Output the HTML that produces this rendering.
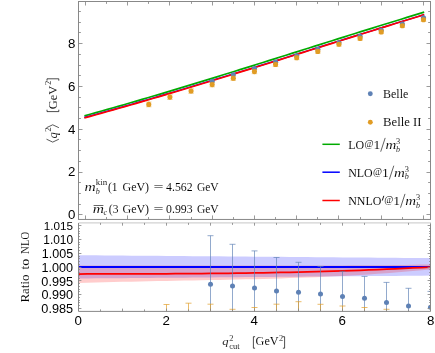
<!DOCTYPE html>
<html><head><meta charset="utf-8"><title>plot</title>
<style>
html,body{margin:0;padding:0;background:#fff;}
#c{will-change:transform;position:relative;width:435px;height:353px;overflow:hidden;background:#fff;}
</style></head><body>
<div id="c">
<svg width="435" height="353" viewBox="0 0 435 353" style="position:absolute;left:0;top:0">
<rect width="435" height="353" fill="#fff"/>
<polyline points="84.40,115.81 90.16,114.22 95.92,112.62 101.68,111.01 107.44,109.39 113.20,107.75 118.96,106.11 124.72,104.45 130.47,102.79 136.23,101.11 141.99,99.43 147.75,97.73 153.51,96.03 159.27,94.32 165.03,92.60 170.79,90.88 176.55,89.14 182.31,87.40 188.07,85.65 193.83,83.90 199.59,82.14 205.35,80.37 211.11,78.60 216.86,76.82 222.62,75.04 228.38,73.25 234.14,71.46 239.90,69.67 245.66,67.87 251.42,66.07 257.18,64.27 262.94,62.46 268.70,60.65 274.46,58.84 280.22,57.03 285.98,55.21 291.74,53.40 297.49,51.58 303.25,49.77 309.01,47.95 314.77,46.14 320.53,44.32 326.29,42.51 332.05,40.70 337.81,38.89 343.57,37.08 349.33,35.28 355.09,33.47 360.85,31.67 366.61,29.88 372.37,28.08 378.13,26.29 383.88,24.51 389.64,22.73 395.40,20.96 401.16,19.19 406.92,17.42 412.68,15.66 418.44,13.91 424.20,12.17" fill="none" stroke="#00AA00" stroke-width="1.7"/>
<polyline points="84.40,117.46 90.16,115.89 95.92,114.30 101.68,112.70 107.44,111.10 113.20,109.48 118.96,107.85 124.72,106.22 130.47,104.57 136.23,102.91 141.99,101.25 147.75,99.58 153.51,97.90 159.27,96.21 165.03,94.51 170.79,92.80 176.55,91.09 182.31,89.37 188.07,87.65 193.83,85.91 199.59,84.17 205.35,82.43 211.11,80.68 216.86,78.92 222.62,77.16 228.38,75.40 234.14,73.63 239.90,71.85 245.66,70.08 251.42,68.30 257.18,66.51 262.94,64.72 268.70,62.93 274.46,61.14 280.22,59.35 285.98,57.55 291.74,55.75 297.49,53.95 303.25,52.15 309.01,50.35 314.77,48.54 320.53,46.74 326.29,44.94 332.05,43.14 337.81,41.33 343.57,39.53 349.33,37.73 355.09,35.94 360.85,34.14 366.61,32.34 372.37,30.55 378.13,28.76 383.88,26.98 389.64,25.19 395.40,23.41 401.16,21.64 406.92,19.86 412.68,18.10 418.44,16.33 424.20,14.57" fill="none" stroke="#0000FF" stroke-width="1.4"/>
<polyline points="84.40,117.91 90.16,116.33 95.92,114.74 101.68,113.14 107.44,111.52 113.20,109.90 118.96,108.27 124.72,106.63 130.47,104.97 136.23,103.31 141.99,101.64 147.75,99.96 153.51,98.27 159.27,96.58 165.03,94.88 170.79,93.16 176.55,91.45 182.31,89.72 188.07,87.99 193.83,86.25 199.59,84.51 205.35,82.75 211.11,81.00 216.86,79.24 222.62,77.47 228.38,75.70 234.14,73.92 239.90,72.14 245.66,70.36 251.42,68.57 257.18,66.78 262.94,64.99 268.70,63.19 274.46,61.39 280.22,59.59 285.98,57.79 291.74,55.99 297.49,54.18 303.25,52.37 309.01,50.56 314.77,48.76 320.53,46.95 326.29,45.14 332.05,43.33 337.81,41.52 343.57,39.72 349.33,37.91 355.09,36.11 360.85,34.30 366.61,32.50 372.37,30.71 378.13,28.91 383.88,27.12 389.64,25.33 395.40,23.54 401.16,21.76 406.92,19.98 412.68,18.21 418.44,16.44 424.20,14.67" fill="none" stroke="#FF0000" stroke-width="1.7"/>
<circle cx="212.18" cy="81.20" r="2.55" fill="#5E81B5"/>
<circle cx="233.31" cy="74.86" r="2.55" fill="#5E81B5"/>
<circle cx="254.44" cy="68.49" r="2.55" fill="#5E81B5"/>
<circle cx="275.57" cy="62.14" r="2.55" fill="#5E81B5"/>
<circle cx="296.70" cy="55.68" r="2.55" fill="#5E81B5"/>
<circle cx="317.83" cy="49.23" r="2.55" fill="#5E81B5"/>
<circle cx="338.96" cy="42.83" r="2.55" fill="#5E81B5"/>
<circle cx="360.09" cy="36.42" r="2.55" fill="#5E81B5"/>
<circle cx="381.22" cy="30.22" r="2.55" fill="#5E81B5"/>
<circle cx="402.35" cy="24.02" r="2.55" fill="#5E81B5"/>
<circle cx="423.48" cy="17.72" r="2.55" fill="#5E81B5"/>
<path d="M148.79,102.00V106.80M146.04,102.00h5.5M146.04,106.80h5.5" stroke="#E19C24" stroke-width="0.45" fill="none"/>
<circle cx="148.79" cy="104.40" r="2.55" fill="#E19C24"/>
<path d="M169.92,94.76V99.44M167.17,94.76h5.5M167.17,99.44h5.5" stroke="#E19C24" stroke-width="0.45" fill="none"/>
<circle cx="169.92" cy="97.10" r="2.55" fill="#E19C24"/>
<path d="M191.05,88.72V93.28M188.30,88.72h5.5M188.30,93.28h5.5" stroke="#E19C24" stroke-width="0.45" fill="none"/>
<circle cx="191.05" cy="91.00" r="2.55" fill="#E19C24"/>
<path d="M212.18,82.38V86.82M209.43,82.38h5.5M209.43,86.82h5.5" stroke="#E19C24" stroke-width="0.45" fill="none"/>
<circle cx="212.18" cy="84.60" r="2.55" fill="#E19C24"/>
<path d="M233.31,76.05V80.35M230.56,76.05h5.5M230.56,80.35h5.5" stroke="#E19C24" stroke-width="0.45" fill="none"/>
<circle cx="233.31" cy="78.20" r="2.55" fill="#E19C24"/>
<path d="M254.44,69.51V73.69M251.69,69.51h5.5M251.69,73.69h5.5" stroke="#E19C24" stroke-width="0.45" fill="none"/>
<circle cx="254.44" cy="71.60" r="2.55" fill="#E19C24"/>
<path d="M275.57,62.47V66.53M272.82,62.47h5.5M272.82,66.53h5.5" stroke="#E19C24" stroke-width="0.45" fill="none"/>
<circle cx="275.57" cy="64.50" r="2.55" fill="#E19C24"/>
<path d="M296.70,55.73V59.67M293.95,55.73h5.5M293.95,59.67h5.5" stroke="#E19C24" stroke-width="0.45" fill="none"/>
<circle cx="296.70" cy="57.70" r="2.55" fill="#E19C24"/>
<path d="M317.83,49.49V53.31M315.08,49.49h5.5M315.08,53.31h5.5" stroke="#E19C24" stroke-width="0.45" fill="none"/>
<circle cx="317.83" cy="51.40" r="2.55" fill="#E19C24"/>
<path d="M338.96,42.45V46.15M336.21,42.45h5.5M336.21,46.15h5.5" stroke="#E19C24" stroke-width="0.45" fill="none"/>
<circle cx="338.96" cy="44.30" r="2.55" fill="#E19C24"/>
<path d="M360.09,36.62V40.18M357.34,36.62h5.5M357.34,40.18h5.5" stroke="#E19C24" stroke-width="0.45" fill="none"/>
<circle cx="360.09" cy="38.40" r="2.55" fill="#E19C24"/>
<path d="M381.22,30.18V33.62M378.47,30.18h5.5M378.47,33.62h5.5" stroke="#E19C24" stroke-width="0.45" fill="none"/>
<circle cx="381.22" cy="31.90" r="2.55" fill="#E19C24"/>
<path d="M402.35,24.14V27.46M399.60,24.14h5.5M399.60,27.46h5.5" stroke="#E19C24" stroke-width="0.45" fill="none"/>
<circle cx="402.35" cy="25.80" r="2.55" fill="#E19C24"/>
<path d="M423.48,18.20V21.40M420.73,18.20h5.5M420.73,21.40h5.5" stroke="#E19C24" stroke-width="0.45" fill="none"/>
<circle cx="423.48" cy="19.80" r="2.55" fill="#E19C24"/>
<rect x="78.5" y="1.5" width="352.0" height="217.95" fill="none" stroke="#888888" stroke-width="1"/>
<path d="M85.50,219.45v-4.0M85.50,1.5v4.0M106.50,219.45v-2.4M106.50,1.5v2.4M127.50,219.45v-4.0M127.50,1.5v4.0M148.50,219.45v-2.4M148.50,1.5v2.4M169.50,219.45v-4.0M169.50,1.5v4.0M191.50,219.45v-2.4M191.50,1.5v2.4M212.50,219.45v-4.0M212.50,1.5v4.0M233.50,219.45v-2.4M233.50,1.5v2.4M254.50,219.45v-4.0M254.50,1.5v4.0M275.50,219.45v-2.4M275.50,1.5v2.4M296.50,219.45v-4.0M296.50,1.5v4.0M317.50,219.45v-2.4M317.50,1.5v2.4M338.50,219.45v-4.0M338.50,1.5v4.0M360.50,219.45v-2.4M360.50,1.5v2.4M381.50,219.45v-4.0M381.50,1.5v4.0M402.50,219.45v-2.4M402.50,1.5v2.4M423.50,219.45v-4.0M423.50,1.5v4.0M78.5,214.50h4.0M430.5,214.50h-4.0M78.5,204.50h2.4M430.5,204.50h-2.4M78.5,193.50h2.4M430.5,193.50h-2.4M78.5,182.50h2.4M430.5,182.50h-2.4M78.5,172.50h4.0M430.5,172.50h-4.0M78.5,161.50h2.4M430.5,161.50h-2.4M78.5,150.50h2.4M430.5,150.50h-2.4M78.5,139.50h2.4M430.5,139.50h-2.4M78.5,129.50h4.0M430.5,129.50h-4.0M78.5,118.50h2.4M430.5,118.50h-2.4M78.5,107.50h2.4M430.5,107.50h-2.4M78.5,97.50h2.4M430.5,97.50h-2.4M78.5,86.50h4.0M430.5,86.50h-4.0M78.5,75.50h2.4M430.5,75.50h-2.4M78.5,65.50h2.4M430.5,65.50h-2.4M78.5,54.50h2.4M430.5,54.50h-2.4M78.5,43.50h4.0M430.5,43.50h-4.0M78.5,32.50h2.4M430.5,32.50h-2.4M78.5,22.50h2.4M430.5,22.50h-2.4M78.5,11.50h2.4M430.5,11.50h-2.4" stroke="#888888" stroke-width="0.85" fill="none"/>
<clipPath id="lc"><rect x="78.5" y="222.9" width="352.0" height="88.49999999999997"/></clipPath>
<g clip-path="url(#lc)">
<polygon points="78.50,255.20 87.30,255.27 96.10,255.34 104.90,255.42 113.70,255.49 122.50,255.56 131.30,255.63 140.10,255.71 148.90,255.78 157.70,255.85 166.50,255.93 175.30,256.00 184.10,256.07 192.90,256.14 201.70,256.21 210.50,256.29 219.30,256.36 228.10,256.43 236.90,256.50 245.70,256.58 254.50,256.65 263.30,256.72 272.10,256.80 280.90,256.87 289.70,256.94 298.50,257.01 307.30,257.09 316.10,257.16 324.90,257.23 333.70,257.30 342.50,257.38 351.30,257.45 360.10,257.52 368.90,257.59 377.70,257.67 386.50,257.74 395.30,257.81 404.10,257.88 412.90,257.96 421.70,258.03 430.50,258.10 430.50,275.60 421.70,275.67 412.90,275.75 404.10,275.82 395.30,275.89 386.50,275.96 377.70,276.04 368.90,276.11 360.10,276.18 351.30,276.25 342.50,276.33 333.70,276.40 324.90,276.47 316.10,276.54 307.30,276.62 298.50,276.69 289.70,276.76 280.90,276.83 272.10,276.91 263.30,276.98 254.50,277.05 245.70,277.12 236.90,277.19 228.10,277.27 219.30,277.34 210.50,277.41 201.70,277.49 192.90,277.56 184.10,277.63 175.30,277.70 166.50,277.77 157.70,277.85 148.90,277.92 140.10,277.99 131.30,278.06 122.50,278.14 113.70,278.21 104.90,278.28 96.10,278.36 87.30,278.43 78.50,278.50" fill="#0000FF" fill-opacity="0.2"/>
<polygon points="78.50,265.50 87.30,265.50 96.10,265.49 104.90,265.49 113.70,265.49 122.50,265.48 131.30,265.48 140.10,265.48 148.90,265.47 157.70,265.47 166.50,265.47 175.30,265.46 184.10,265.46 192.90,265.46 201.70,265.45 210.50,265.45 219.30,265.45 228.10,265.44 236.90,265.44 245.70,265.44 254.50,265.43 263.30,265.43 272.10,265.43 280.90,265.42 289.70,265.42 298.50,265.42 307.30,265.41 316.10,265.41 324.90,265.41 333.70,265.40 342.50,265.40 351.30,265.36 360.10,265.32 368.90,265.28 377.70,265.24 386.50,265.20 395.30,265.04 404.10,264.88 412.90,264.72 421.70,264.56 430.50,264.40 430.50,269.50 421.70,270.33 412.90,271.12 404.10,271.86 395.30,272.56 386.50,273.21 377.70,273.83 368.90,274.40 360.10,274.94 351.30,275.44 342.50,275.91 333.70,276.35 324.90,276.75 316.10,277.13 307.30,277.48 298.50,277.81 289.70,278.11 280.90,278.40 272.10,278.66 263.30,278.90 254.50,279.13 245.70,279.35 236.90,279.55 228.10,279.74 219.30,279.92 210.50,280.10 201.70,280.27 192.90,280.43 184.10,280.60 175.30,280.76 166.50,280.93 157.70,281.10 148.90,281.27 140.10,281.45 131.30,281.64 122.50,281.84 113.70,282.05 104.90,282.28 96.10,282.52 87.30,282.77 78.50,283.05" fill="#FF0000" fill-opacity="0.2"/>
<path d="M78.5,267.0H430.5" stroke="#0000FF" stroke-width="1.9"/>
<polyline points="78.50,274.00 87.30,273.99 96.10,273.98 104.90,273.96 113.70,273.94 122.50,273.92 131.30,273.90 140.10,273.88 148.90,273.85 157.70,273.81 166.50,273.77 175.30,273.73 184.10,273.67 192.90,273.61 201.70,273.54 210.50,273.47 219.30,273.38 228.10,273.29 236.90,273.18 245.70,273.07 254.50,272.94 263.30,272.80 272.10,272.65 280.90,272.48 289.70,272.30 298.50,272.11 307.30,271.90 316.10,271.67 324.90,271.43 333.70,271.17 342.50,270.89 351.30,270.60 360.10,270.28 368.90,269.95 377.70,269.60 386.50,269.22 395.30,268.83 404.10,268.41 412.90,267.97 421.70,267.51 430.50,267.02" stroke="#FF0000" stroke-width="1.75" fill="none"/>
<path d="M210.50,235.7V311.4M207.50,235.7h6.0" stroke="#5E81B5" stroke-width="0.68" fill="none"/>
<circle cx="210.50" cy="284.30" r="2.5" fill="#5E81B5"/>
<path d="M232.50,244.3V311.4M229.50,244.3h6.0" stroke="#5E81B5" stroke-width="0.68" fill="none"/>
<circle cx="232.50" cy="286.00" r="2.5" fill="#5E81B5"/>
<path d="M254.50,250.9V311.4M251.50,250.9h6.0" stroke="#5E81B5" stroke-width="0.68" fill="none"/>
<circle cx="254.50" cy="288.00" r="2.5" fill="#5E81B5"/>
<path d="M276.50,257.5V311.4M273.50,257.5h6.0" stroke="#5E81B5" stroke-width="0.68" fill="none"/>
<circle cx="276.50" cy="291.00" r="2.5" fill="#5E81B5"/>
<path d="M298.50,262.3V311.4M295.50,262.3h6.0" stroke="#5E81B5" stroke-width="0.68" fill="none"/>
<circle cx="298.50" cy="292.30" r="2.5" fill="#5E81B5"/>
<path d="M320.50,266.4V311.4M317.50,266.4h6.0" stroke="#5E81B5" stroke-width="0.68" fill="none"/>
<circle cx="320.50" cy="294.00" r="2.5" fill="#5E81B5"/>
<path d="M342.50,271.3V311.4M339.50,271.3h6.0" stroke="#5E81B5" stroke-width="0.68" fill="none"/>
<circle cx="342.50" cy="296.40" r="2.5" fill="#5E81B5"/>
<path d="M364.50,276.4V311.4M361.50,276.4h6.0" stroke="#5E81B5" stroke-width="0.68" fill="none"/>
<circle cx="364.50" cy="298.20" r="2.5" fill="#5E81B5"/>
<path d="M386.50,282.4V311.4M383.50,282.4h6.0" stroke="#5E81B5" stroke-width="0.68" fill="none"/>
<circle cx="386.50" cy="302.50" r="2.5" fill="#5E81B5"/>
<path d="M408.50,288.3V311.4M405.50,288.3h6.0" stroke="#5E81B5" stroke-width="0.68" fill="none"/>
<circle cx="408.50" cy="306.10" r="2.5" fill="#5E81B5"/>
<path d="M430.50,291.4V311.4M427.50,291.4h6.0" stroke="#5E81B5" stroke-width="0.68" fill="none"/>
<circle cx="430.50" cy="307.20" r="2.5" fill="#5E81B5"/>
<path d="M144.50,320V311.4M141.50,320h6.0" stroke="#E19C24" stroke-width="0.68" fill="none"/>
<path d="M166.50,304.5V311.4M163.50,304.5h6.0" stroke="#E19C24" stroke-width="0.68" fill="none"/>
<path d="M188.50,303.2V311.4M185.50,303.2h6.0" stroke="#E19C24" stroke-width="0.68" fill="none"/>
<path d="M210.50,304.2V311.4M207.50,304.2h6.0" stroke="#E19C24" stroke-width="0.68" fill="none"/>
<path d="M232.50,309.3V311.4M229.50,309.3h6.0" stroke="#E19C24" stroke-width="0.68" fill="none"/>
<path d="M254.50,307.5V311.4M251.50,307.5h6.0" stroke="#E19C24" stroke-width="0.68" fill="none"/>
<path d="M276.50,304.2V311.4M273.50,304.2h6.0" stroke="#E19C24" stroke-width="0.68" fill="none"/>
<path d="M298.50,301.7V311.4M295.50,301.7h6.0" stroke="#E19C24" stroke-width="0.68" fill="none"/>
<path d="M320.50,304.3V311.4M317.50,304.3h6.0" stroke="#E19C24" stroke-width="0.68" fill="none"/>
<path d="M342.50,306V311.4M339.50,306h6.0" stroke="#E19C24" stroke-width="0.68" fill="none"/>
<path d="M364.50,307.5V311.4M361.50,307.5h6.0" stroke="#E19C24" stroke-width="0.68" fill="none"/>
<path d="M386.50,309.3V311.4M383.50,309.3h6.0" stroke="#E19C24" stroke-width="0.68" fill="none"/>
<path d="M408.50,320V311.4M405.50,320h6.0" stroke="#E19C24" stroke-width="0.68" fill="none"/>
<path d="M430.50,320V311.4M427.50,320h6.0" stroke="#E19C24" stroke-width="0.68" fill="none"/>
</g>
<path d="M78.5,222.9V311.4H430.5V222.9" fill="none" stroke="#888888" stroke-width="1"/>
<path d="M78.95,222.9H430.95" fill="none" stroke="#d2d2d2" stroke-width="1.4"/>
<path d="M100.50,311.4v-2.0M100.50,222.9v2.0M122.50,311.4v-2.8M122.50,222.9v2.8M144.50,311.4v-2.0M144.50,222.9v2.0M166.50,311.4v-2.8M166.50,222.9v2.8M188.50,311.4v-2.0M188.50,222.9v2.0M210.50,311.4v-2.8M210.50,222.9v2.8M232.50,311.4v-2.0M232.50,222.9v2.0M254.50,311.4v-2.8M254.50,222.9v2.8M276.50,311.4v-2.0M276.50,222.9v2.0M298.50,311.4v-2.8M298.50,222.9v2.8M320.50,311.4v-2.0M320.50,222.9v2.0M342.50,311.4v-2.8M342.50,222.9v2.8M364.50,311.4v-2.0M364.50,222.9v2.0M386.50,311.4v-2.8M386.50,222.9v2.8M408.50,311.4v-2.0M408.50,222.9v2.0M78.5,308.50h2.9M430.5,308.50h-2.9M78.5,305.50h1.4M430.5,305.50h-1.4M78.5,302.50h1.4M430.5,302.50h-1.4M78.5,300.50h1.4M430.5,300.50h-1.4M78.5,297.50h1.4M430.5,297.50h-1.4M78.5,294.50h2.9M430.5,294.50h-2.9M78.5,291.50h1.4M430.5,291.50h-1.4M78.5,289.50h1.4M430.5,289.50h-1.4M78.5,286.50h1.4M430.5,286.50h-1.4M78.5,283.50h1.4M430.5,283.50h-1.4M78.5,280.50h2.9M430.5,280.50h-2.9M78.5,278.50h1.4M430.5,278.50h-1.4M78.5,275.50h1.4M430.5,275.50h-1.4M78.5,272.50h1.4M430.5,272.50h-1.4M78.5,269.50h1.4M430.5,269.50h-1.4M78.5,267.50h2.9M430.5,267.50h-2.9M78.5,264.50h1.4M430.5,264.50h-1.4M78.5,261.50h1.4M430.5,261.50h-1.4M78.5,258.50h1.4M430.5,258.50h-1.4M78.5,256.50h1.4M430.5,256.50h-1.4M78.5,253.50h2.9M430.5,253.50h-2.9M78.5,250.50h1.4M430.5,250.50h-1.4M78.5,247.50h1.4M430.5,247.50h-1.4M78.5,244.50h1.4M430.5,244.50h-1.4M78.5,242.50h1.4M430.5,242.50h-1.4M78.5,239.50h2.9M430.5,239.50h-2.9M78.5,236.50h1.4M430.5,236.50h-1.4M78.5,233.50h1.4M430.5,233.50h-1.4M78.5,231.50h1.4M430.5,231.50h-1.4M78.5,228.50h1.4M430.5,228.50h-1.4M78.5,225.50h2.9M430.5,225.50h-2.9" stroke="#888888" stroke-width="0.85" fill="none"/>
<circle cx="370.3" cy="93.8" r="2.45" fill="#5E81B5"/>
<circle cx="370.3" cy="122.2" r="2.45" fill="#E19C24"/>
<path d="M322.4,144.3H339.8" stroke="#00AA00" stroke-width="1.5"/>
<path d="M322.4,172.2H339.8" stroke="#0000FF" stroke-width="1.5"/>
<path d="M322.4,200.5H339.8" stroke="#FF0000" stroke-width="1.5"/>
<text x="75.5" y="219.1" text-anchor="end" style="font-family:'Liberation Sans',sans-serif;font-size:12.4px;" fill="#000" textLength="7.4" lengthAdjust="spacingAndGlyphs">0</text>
<text x="75.5" y="176.3" text-anchor="end" style="font-family:'Liberation Sans',sans-serif;font-size:12.4px;" fill="#000" textLength="7.4" lengthAdjust="spacingAndGlyphs">2</text>
<text x="75.5" y="133.5" text-anchor="end" style="font-family:'Liberation Sans',sans-serif;font-size:12.4px;" fill="#000" textLength="7.4" lengthAdjust="spacingAndGlyphs">4</text>
<text x="75.5" y="90.7" text-anchor="end" style="font-family:'Liberation Sans',sans-serif;font-size:12.4px;" fill="#000" textLength="7.4" lengthAdjust="spacingAndGlyphs">6</text>
<text x="75.5" y="47.9" text-anchor="end" style="font-family:'Liberation Sans',sans-serif;font-size:12.4px;" fill="#000" textLength="7.4" lengthAdjust="spacingAndGlyphs">8</text>
<text x="73.1" y="230.2" text-anchor="end" style="font-family:'Liberation Sans',sans-serif;font-size:11.7px;" fill="#000">1.015</text>
<text x="73.1" y="243.6" text-anchor="end" style="font-family:'Liberation Sans',sans-serif;font-size:11.9px;" fill="#000">1.010</text>
<text x="73.1" y="257.9" text-anchor="end" style="font-family:'Liberation Sans',sans-serif;font-size:12.5px;" fill="#000">1.005</text>
<text x="73.1" y="271.7" text-anchor="end" style="font-family:'Liberation Sans',sans-serif;font-size:12.6px;" fill="#000">1.000</text>
<text x="73.1" y="285.5" text-anchor="end" style="font-family:'Liberation Sans',sans-serif;font-size:12.7px;" fill="#000">0.995</text>
<text x="73.1" y="298.6" text-anchor="end" style="font-family:'Liberation Sans',sans-serif;font-size:12.6px;" fill="#000">0.990</text>
<text x="73.1" y="312.9" text-anchor="end" style="font-family:'Liberation Sans',sans-serif;font-size:12.7px;" fill="#000">0.985</text>
<text x="78.2" y="325.4" text-anchor="middle" style="font-family:'Liberation Sans',sans-serif;font-size:12.5px;" fill="#000" textLength="7.4" lengthAdjust="spacingAndGlyphs">0</text>
<text x="166.2" y="325.4" text-anchor="middle" style="font-family:'Liberation Sans',sans-serif;font-size:12.5px;" fill="#000" textLength="7.4" lengthAdjust="spacingAndGlyphs">2</text>
<text x="254.2" y="325.4" text-anchor="middle" style="font-family:'Liberation Sans',sans-serif;font-size:12.5px;" fill="#000" textLength="7.4" lengthAdjust="spacingAndGlyphs">4</text>
<text x="342.2" y="325.4" text-anchor="middle" style="font-family:'Liberation Sans',sans-serif;font-size:12.5px;" fill="#000" textLength="7.4" lengthAdjust="spacingAndGlyphs">6</text>
<text x="430.6" y="325.4" text-anchor="middle" style="font-family:'Liberation Sans',sans-serif;font-size:12.5px;" fill="#000" textLength="7.4" lengthAdjust="spacingAndGlyphs">8</text>
<text x="383.0" y="97.9" text-anchor="start" style="font-family:'Liberation Serif',serif;font-size:13.3px;" fill="#000" stroke="#fff" stroke-width="0.07" textLength="25.3" lengthAdjust="spacingAndGlyphs">Belle</text>
<text x="383.0" y="126.3" text-anchor="start" style="font-family:'Liberation Serif',serif;font-size:13.3px;" fill="#000" stroke="#fff" stroke-width="0.07" textLength="38.5" lengthAdjust="spacingAndGlyphs">Belle II</text>
<text x="348.2" y="148.8" text-anchor="start" style="font-family:'Liberation Serif',serif;font-size:13.3px;" fill="#000" stroke="#fff" stroke-width="0.07" textLength="15.9" lengthAdjust="spacingAndGlyphs">LO</text>
<text x="364.5" y="146.9" text-anchor="start" style="font-family:'Liberation Serif',serif;font-size:9.8px;" fill="#000" stroke="#fff" stroke-width="0.07">@</text>
<text x="373.5" y="148.8" text-anchor="start" style="font-family:'Liberation Serif',serif;font-size:13.3px;" fill="#000" stroke="#fff" stroke-width="0.07" textLength="6.8" lengthAdjust="spacingAndGlyphs">1</text>
<path d="M380.70,151.70L385.20,137.90" stroke="#000" stroke-width="0.62"/>
<text x="385.4" y="148.8" text-anchor="start" style="font-family:'Liberation Serif',serif;font-size:11.5px;font-style:italic;" fill="#000" stroke="#fff" stroke-width="0.07" textLength="10.8" lengthAdjust="spacingAndGlyphs">m</text>
<text x="396.09999999999997" y="144.4" text-anchor="start" style="font-family:'Liberation Serif',serif;font-size:8.4px;" fill="#000" stroke="#fff" stroke-width="0.07">3</text>
<text x="396.09999999999997" y="151.5" text-anchor="start" style="font-family:'Liberation Serif',serif;font-size:8.0px;font-style:italic;" fill="#000" stroke="#fff" stroke-width="0.07">b</text>
<text x="348.2" y="176.6" text-anchor="start" style="font-family:'Liberation Serif',serif;font-size:13.3px;" fill="#000" stroke="#fff" stroke-width="0.07" textLength="24.5" lengthAdjust="spacingAndGlyphs">NLO</text>
<text x="373.1" y="174.7" text-anchor="start" style="font-family:'Liberation Serif',serif;font-size:9.8px;" fill="#000" stroke="#fff" stroke-width="0.07">@</text>
<text x="382.1" y="176.6" text-anchor="start" style="font-family:'Liberation Serif',serif;font-size:13.3px;" fill="#000" stroke="#fff" stroke-width="0.07" textLength="6.8" lengthAdjust="spacingAndGlyphs">1</text>
<path d="M389.30,179.50L393.80,165.70" stroke="#000" stroke-width="0.62"/>
<text x="394.0" y="176.6" text-anchor="start" style="font-family:'Liberation Serif',serif;font-size:11.5px;font-style:italic;" fill="#000" stroke="#fff" stroke-width="0.07" textLength="10.8" lengthAdjust="spacingAndGlyphs">m</text>
<text x="404.7" y="172.2" text-anchor="start" style="font-family:'Liberation Serif',serif;font-size:8.4px;" fill="#000" stroke="#fff" stroke-width="0.07">3</text>
<text x="404.7" y="179.29999999999998" text-anchor="start" style="font-family:'Liberation Serif',serif;font-size:8.0px;font-style:italic;" fill="#000" stroke="#fff" stroke-width="0.07">b</text>
<text x="348.2" y="204.8" text-anchor="start" style="font-family:'Liberation Serif',serif;font-size:13.3px;" fill="#000" stroke="#fff" stroke-width="0.07" textLength="33.2" lengthAdjust="spacingAndGlyphs">NNLO</text>
<path d="M383.70,196.20L382.40,200.20" stroke="#000" stroke-width="0.9" stroke-linecap="round"/>
<text x="384.3" y="202.9" text-anchor="start" style="font-family:'Liberation Serif',serif;font-size:9.8px;" fill="#000" stroke="#fff" stroke-width="0.07">@</text>
<text x="393.3" y="204.8" text-anchor="start" style="font-family:'Liberation Serif',serif;font-size:13.3px;" fill="#000" stroke="#fff" stroke-width="0.07" textLength="6.8" lengthAdjust="spacingAndGlyphs">1</text>
<path d="M400.50,207.70L405.00,193.90" stroke="#000" stroke-width="0.62"/>
<text x="405.2" y="204.8" text-anchor="start" style="font-family:'Liberation Serif',serif;font-size:11.5px;font-style:italic;" fill="#000" stroke="#fff" stroke-width="0.07" textLength="10.8" lengthAdjust="spacingAndGlyphs">m</text>
<text x="415.9" y="200.4" text-anchor="start" style="font-family:'Liberation Serif',serif;font-size:8.4px;" fill="#000" stroke="#fff" stroke-width="0.07">3</text>
<text x="415.9" y="207.5" text-anchor="start" style="font-family:'Liberation Serif',serif;font-size:8.0px;font-style:italic;" fill="#000" stroke="#fff" stroke-width="0.07">b</text>
<text x="84.6" y="191.3" text-anchor="start" style="font-family:'Liberation Serif',serif;font-size:11.5px;font-style:italic;" fill="#000" stroke="#fff" stroke-width="0.07" textLength="11.2" lengthAdjust="spacingAndGlyphs">m</text>
<text x="95.7" y="185.2" text-anchor="start" style="font-family:'Liberation Serif',serif;font-size:8.4px;" fill="#000" stroke="#fff" stroke-width="0.07" textLength="11.4" lengthAdjust="spacingAndGlyphs">kin</text>
<text x="95.7" y="193.7" text-anchor="start" style="font-family:'Liberation Serif',serif;font-size:8.0px;font-style:italic;" fill="#000" stroke="#fff" stroke-width="0.07">b</text>
<text x="108.0" y="191.3" text-anchor="start" style="font-family:'Liberation Serif',serif;font-size:13.3px;" fill="#000" stroke="#fff" stroke-width="0.07" textLength="9.6" lengthAdjust="spacingAndGlyphs">(1</text>
<text x="122.5" y="191.3" text-anchor="start" style="font-family:'Liberation Serif',serif;font-size:13.3px;" fill="#000" stroke="#fff" stroke-width="0.07" textLength="26.6" lengthAdjust="spacingAndGlyphs">GeV)</text>
<text x="153.4" y="191.3" text-anchor="start" style="font-family:'Liberation Serif',serif;font-size:13.3px;" fill="#000" stroke="#fff" stroke-width="0.07" textLength="10.0" lengthAdjust="spacingAndGlyphs">=</text>
<text x="166.1" y="191.3" text-anchor="start" style="font-family:'Liberation Serif',serif;font-size:13.3px;" fill="#000" stroke="#fff" stroke-width="0.07" textLength="26.5" lengthAdjust="spacingAndGlyphs">4.562</text>
<text x="196.9" y="191.3" text-anchor="start" style="font-family:'Liberation Serif',serif;font-size:13.3px;" fill="#000" stroke="#fff" stroke-width="0.07" textLength="21.8" lengthAdjust="spacingAndGlyphs">GeV</text>
<text x="92.8" y="212.8" text-anchor="start" style="font-family:'Liberation Serif',serif;font-size:11.5px;font-style:italic;" fill="#000" stroke="#fff" stroke-width="0.07" textLength="11.2" lengthAdjust="spacingAndGlyphs">m</text>
<path d="M93.6,205.5H103.4" stroke="#000" stroke-width="0.6"/>
<text x="103.6" y="214.7" text-anchor="start" style="font-family:'Liberation Serif',serif;font-size:8.0px;font-style:italic;" fill="#000" stroke="#fff" stroke-width="0.07">c</text>
<text x="108.8" y="212.8" text-anchor="start" style="font-family:'Liberation Serif',serif;font-size:13.3px;" fill="#000" stroke="#fff" stroke-width="0.07" textLength="9.6" lengthAdjust="spacingAndGlyphs">(3</text>
<text x="122.5" y="212.8" text-anchor="start" style="font-family:'Liberation Serif',serif;font-size:13.3px;" fill="#000" stroke="#fff" stroke-width="0.07" textLength="26.6" lengthAdjust="spacingAndGlyphs">GeV)</text>
<text x="153.4" y="212.8" text-anchor="start" style="font-family:'Liberation Serif',serif;font-size:13.3px;" fill="#000" stroke="#fff" stroke-width="0.07" textLength="10.0" lengthAdjust="spacingAndGlyphs">=</text>
<text x="166.1" y="212.8" text-anchor="start" style="font-family:'Liberation Serif',serif;font-size:13.3px;" fill="#000" stroke="#fff" stroke-width="0.07" textLength="26.5" lengthAdjust="spacingAndGlyphs">0.993</text>
<text x="196.9" y="212.8" text-anchor="start" style="font-family:'Liberation Serif',serif;font-size:13.3px;" fill="#000" stroke="#fff" stroke-width="0.07" textLength="21.8" lengthAdjust="spacingAndGlyphs">GeV</text>
<text x="222.3" y="344.9" text-anchor="start" style="font-family:'Liberation Serif',serif;font-size:11px;font-style:italic;" fill="#000" stroke="#fff" stroke-width="0.07" textLength="6.3" lengthAdjust="spacingAndGlyphs">q</text>
<text x="229.3" y="341.2" text-anchor="start" style="font-family:'Liberation Serif',serif;font-size:8.4px;" fill="#000" stroke="#fff" stroke-width="0.07">2</text>
<text x="229.3" y="348.6" text-anchor="start" style="font-family:'Liberation Serif',serif;font-size:8.4px;" fill="#000" stroke="#fff" stroke-width="0.07" textLength="10.4" lengthAdjust="spacingAndGlyphs">cut</text>
<path d="M255.1,336.7H253.4V348.2H255.1M282.9,336.7H284.6V348.2H282.9" fill="none" stroke="#000" stroke-width="0.7"/>
<text x="255.6" y="344.9" text-anchor="start" style="font-family:'Liberation Serif',serif;font-size:13.3px;" fill="#000" stroke="#fff" stroke-width="0.07" textLength="23.0" lengthAdjust="spacingAndGlyphs">GeV</text>
<text x="279.0" y="341.0" text-anchor="start" style="font-family:'Liberation Serif',serif;font-size:8.4px;" fill="#000" stroke="#fff" stroke-width="0.07">2</text>
<g transform="translate(56.8,142.7) rotate(-90)">
<path d="M3.5,-10.3L0.6,-4.1L3.5,2.1M15.0,-10.3L17.9,-4.1L15.0,2.1" fill="none" stroke="#000" stroke-width="0.65"/>
<text x="4.3" y="0" text-anchor="start" style="font-family:'Liberation Serif',serif;font-size:11.5px;font-style:italic;" fill="#000" stroke="#fff" stroke-width="0.07" textLength="6.4" lengthAdjust="spacingAndGlyphs">q</text>
<text x="10.9" y="-5.6" text-anchor="start" style="font-family:'Liberation Serif',serif;font-size:8.8px;" fill="#000" stroke="#fff" stroke-width="0.07">2</text>
<path d="M33.0,-9.8H31.1V2.0H33.0M62.0,-9.8H63.9V2.0H62.0" fill="none" stroke="#000" stroke-width="0.7"/>
<text x="33.5" y="0" text-anchor="start" style="font-family:'Liberation Serif',serif;font-size:13.3px;" fill="#000" stroke="#fff" stroke-width="0.07" textLength="23.6" lengthAdjust="spacingAndGlyphs">GeV</text>
<text x="57.6" y="-5.6" text-anchor="start" style="font-family:'Liberation Serif',serif;font-size:8.8px;" fill="#000" stroke="#fff" stroke-width="0.07">2</text>
</g>
<g transform="translate(29.3,302.6) rotate(-90)">
<text x="0" y="0" text-anchor="start" style="font-family:'Liberation Serif',serif;font-size:12.3px;" fill="#000" stroke="#fff" stroke-width="0.07" textLength="28.2" lengthAdjust="spacingAndGlyphs">Ratio</text>
<text x="33.0" y="0" text-anchor="start" style="font-family:'Liberation Serif',serif;font-size:12.3px;" fill="#000" stroke="#fff" stroke-width="0.07" textLength="10.9" lengthAdjust="spacingAndGlyphs">to</text>
<text x="48.7" y="0" text-anchor="start" style="font-family:'Liberation Serif',serif;font-size:12.3px;" fill="#000" stroke="#fff" stroke-width="0.07" textLength="22.2" lengthAdjust="spacingAndGlyphs">NLO</text>
</g>
</svg>
</div>
</body></html>
